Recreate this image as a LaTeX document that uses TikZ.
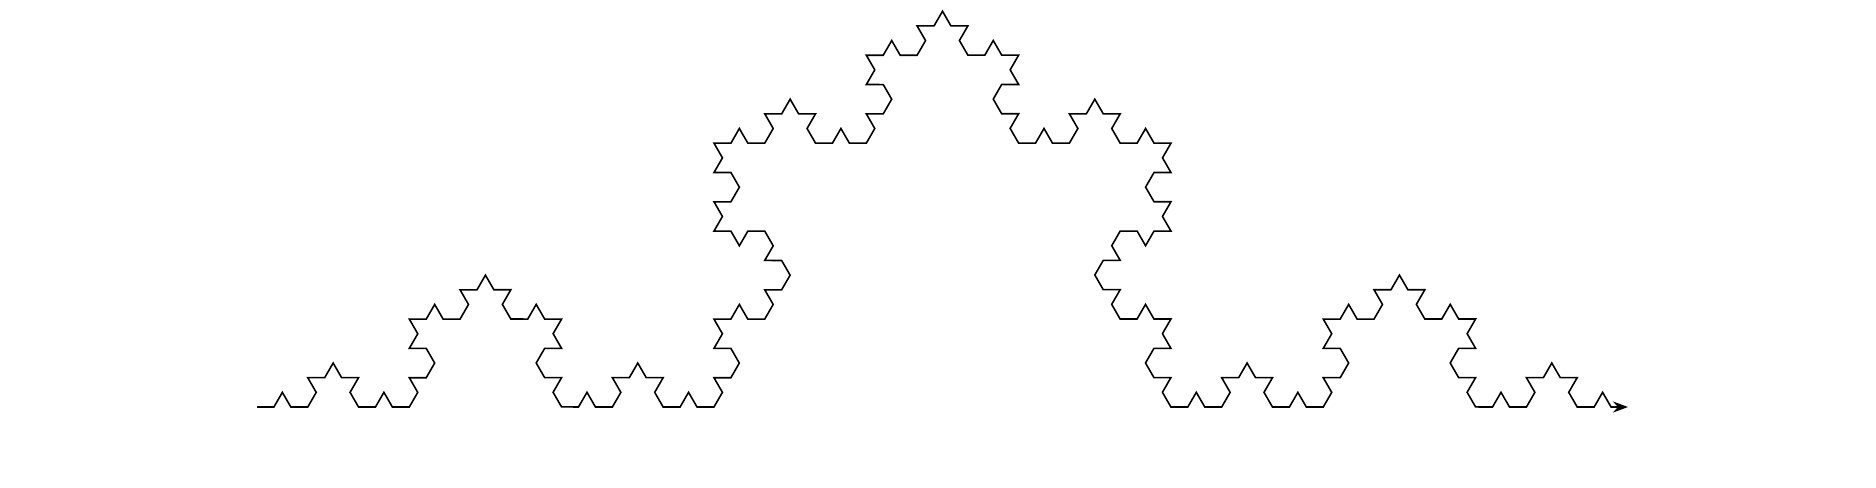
\documentclass[tikz,border=0pt]{standalone}
\usetikzlibrary{arrows.meta,decorations.fractals}
\tikzset{
  >={Stealth[length=1.5mm,width=1.1mm]},
  koch/.style={decoration=Koch snowflake},
}
\begin{document}
\begin{tikzpicture}
  \useasboundingbox (0,0) rectangle (18.76,4.87);
  \coordinate (start) at (2.57,0.80);
  \coordinate (end) at (16.28,0.80);
  % fourth iteration of the snowflake edge
  \draw[koch,->,line width=0.45pt]
    decorate{decorate{decorate{decorate{(start) -- (end)}}}};
\end{tikzpicture}
\end{document}
